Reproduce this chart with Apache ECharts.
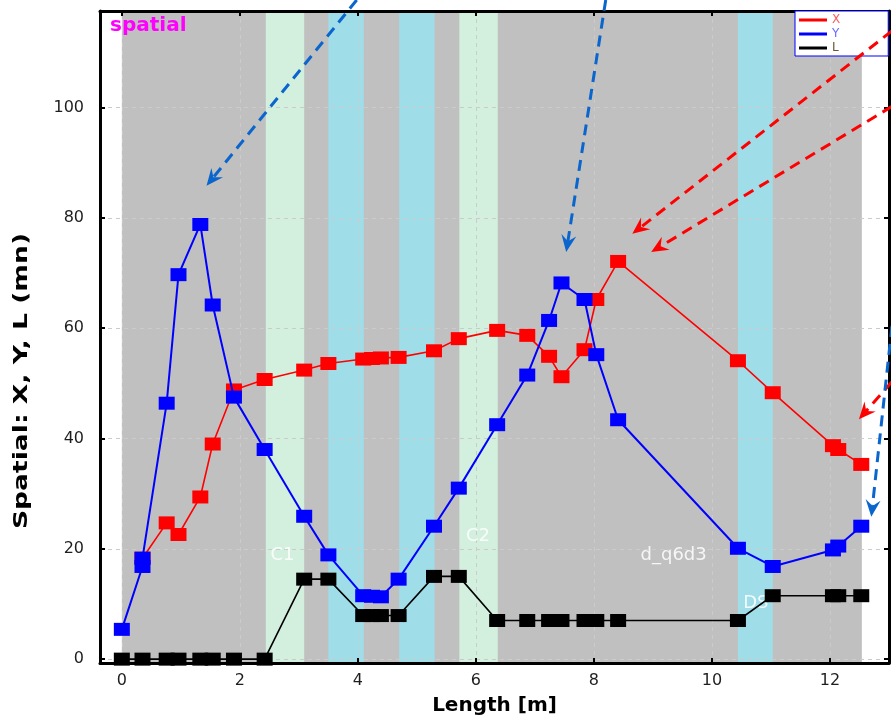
<!DOCTYPE html>
<html><head><meta charset="utf-8">
<script src="https://cdn.jsdelivr.net/npm/echarts@6/dist/echarts.min.js"></script>
<style>html,body{margin:0;padding:0;background:#fff}#c{width:891px;height:721px}</style>
</head><body><div id="c"></div>
<script>
// ---- data ----
const lengthX = [0.35, 0.76, 0.96, 1.33, 1.54, 1.90, 2.42, 3.09, 3.50, 4.09, 4.24, 4.39, 4.69, 5.29, 5.71, 6.36, 6.87, 7.24, 7.45, 7.84, 8.04, 8.41, 10.44, 11.03, 12.05, 12.14, 12.53];
const valuesX = [18.3, 24.7, 22.6, 29.4, 39.0, 48.8, 50.7, 52.4, 53.6, 54.4, 54.5, 54.6, 54.7, 55.9, 58.1, 59.6, 58.7, 54.9, 51.2, 56.1, 65.2, 72.1, 54.1, 48.3, 38.7, 38.0, 35.3];

const lengthY = [0, 0.35, 0.35, 0.76, 0.96, 1.33, 1.54, 1.90, 2.42, 3.09, 3.50, 4.09, 4.24, 4.39, 4.69, 5.29, 5.71, 6.36, 6.87, 7.24, 7.45, 7.84, 8.04, 8.41, 10.44, 11.03, 12.05, 12.14, 12.53];
const valuesY = [5.4, 16.8, 18.3, 46.4, 69.7, 78.8, 64.2, 47.5, 38.0, 25.9, 18.9, 11.5, 11.4, 11.3, 14.5, 24.1, 31.0, 42.5, 51.5, 61.4, 68.2, 65.2, 55.2, 43.4, 20.1, 16.8, 19.8, 20.5, 24.1];

const lengthL = [0, 0.35, 0.76, 0.96, 1.33, 1.54, 1.90, 2.42, 3.09, 3.50, 4.09, 4.24, 4.39, 4.69, 5.29, 5.71, 6.36, 6.87, 7.24, 7.45, 7.84, 8.04, 8.41, 10.44, 11.03, 12.05, 12.14, 12.53];
const valuesL = [0, 0, 0, 0, 0, 0, 0, 0, 14.5, 14.5, 7.9, 7.9, 7.9, 7.9, 15.0, 15.0, 7.0, 7.0, 7.0, 7.0, 7.0, 7.0, 7.0, 7.0, 11.5, 11.5, 11.5, 11.5];

const bandStart = [0, 2.44, 3.50, 4.70, 5.72, 10.44];
const bandEnd   = [12.54, 3.09, 4.10, 5.30, 6.37, 11.03];
const bandKind  = ['gray', 'green', 'cyan', 'cyan', 'green', 'cyan'];

const regionNames = ['C1', 'C2', 'd_q6d3', 'DS'];
const regionX = [2.52, 5.83, 8.79, 10.53];
const regionY = [18.9, 22.2, 18.9, 10.1];

const arrowFromX = [3.98, 8.20, 13.05, 13.05, 13.05, 13.05];
const arrowFromY = [119.5, 119.5, 113.9, 100.2, 50.3, 60.4];
const arrowToX   = [1.435, 7.53, 8.65, 8.97, 12.49, 12.70];
const arrowToY   = [85.8, 73.8, 77.1, 73.8, 43.5, 25.8];
const arrowKind  = ['blue', 'blue', 'red', 'red', 'red', 'blue'];

const seriesNames = ['X', 'Y', 'L'];

// ---- styles ----
const bandColors = { gray: '#c0c0c0', green: '#d3f0df', cyan: '#9fdde8' };
const arrowColors = { blue: '#0a66cc', red: '#ff0000' };
const lineColors = ['#ff0000', '#0000ff', '#000000'];
const legendTextColors = ['#ff5a5a', '#6a6aff', '#6b5535'];
const FONT = '"DejaVu Sans", Verdana, sans-serif';

const chart = echarts.init(document.getElementById('c'));

function bandItem(params, api) {
  const cs = params.coordSys;
  const x0 = api.coord([api.value(0), 0])[0];
  const x1 = api.coord([api.value(1), 0])[0];
  return { type: 'rect', shape: { x: x0, y: cs.y, width: x1 - x0, height: cs.height },
           style: { fill: bandColors[bandKind[params.dataIndex]] } };
}
function labelItem(params, api) {
  const p = api.coord([api.value(0), api.value(1)]);
  return { type: 'text', x: p[0], y: p[1],
           style: { text: regionNames[params.dataIndex], fill: 'rgba(255,255,255,0.85)',
                    font: '18px ' + FONT, align: 'left', verticalAlign: 'middle' } };
}
function arrowItem(params, api) {
  const p0 = api.coord([api.value(0), api.value(1)]);
  const p1 = api.coord([api.value(2), api.value(3)]);
  const color = arrowColors[arrowKind[params.dataIndex]];
  const dx = p1[0] - p0[0], dy = p1[1] - p0[1];
  const len = Math.hypot(dx, dy);
  const ux = dx / len, uy = dy / len, nx = -uy, ny = ux;
  const L = 17, W = 7.5, N = 6;
  const base = [p1[0] - ux * (L - N), p1[1] - uy * (L - N)];
  return { type: 'group', children: [
    { type: 'line', shape: { x1: p0[0], y1: p0[1], x2: base[0], y2: base[1] },
      style: { stroke: color, lineWidth: 3, lineDash: [11, 7] } },
    { type: 'polygon', shape: { points: [p1,
        [p1[0] - ux * L + nx * W, p1[1] - uy * L + ny * W], base,
        [p1[0] - ux * L - nx * W, p1[1] - uy * L - ny * W]] },
      style: { fill: color } }
  ] };
}

const isMult = (v, s) => Math.abs(v - Math.round(v / s) * s) < 1e-6;
const axisLineStyle = { show: true, onZero: false, lineStyle: { color: '#000', width: 3 } };
const tickStyle = { show: true, inside: true, length: 5, lineStyle: { color: '#000', width: 2 } };
const gridLine = { show: true, lineStyle: { type: [4, 4], color: '#cbcbcb', width: 1 } };

const lengths = [lengthX, lengthY, lengthL];
const vals = [valuesX, valuesY, valuesL];

const option = {
  animation: false,
  backgroundColor: '#fff',
  grid: { left: 100, right: 2, top: 11, bottom: 54 },
  legend: {
    orient: 'vertical', left: 795, top: 11,
    itemWidth: 28, itemHeight: 3, itemGap: 2, icon: 'rect',
    backgroundColor: '#fff', borderColor: '#0000ff', borderWidth: 1, borderRadius: 0,
    padding: [3, 48, 2, 4],
    textStyle: { fontSize: 12, fontFamily: FONT },
    data: seriesNames.map((n, i) => ({ name: n, textStyle: { color: legendTextColors[i] } }))
  },
  xAxis: [
    { type: 'value', min: -0.37, max: 13.0, splitNumber: 6, position: 'bottom',
      axisLine: axisLineStyle, axisTick: tickStyle, splitLine: gridLine,
      axisLabel: { fontFamily: FONT, fontSize: 16, color: '#1e1e1e', margin: 10,
                   showMinLabel: false, showMaxLabel: false,
                   formatter: v => isMult(v, 2) ? String(v) : '' },
      name: 'Length [m]', nameLocation: 'middle', nameGap: 33,
      nameTextStyle: { fontFamily: FONT, fontWeight: 'bold', fontSize: 20, color: '#000' } },
    { type: 'value', min: -0.37, max: 13.0, splitNumber: 6, position: 'top',
      axisLine: axisLineStyle, axisTick: tickStyle, splitLine: { show: false },
      axisLabel: { show: false } }
  ],
  yAxis: [
    { type: 'value', min: -0.7, max: 117.5, splitNumber: 6, position: 'left',
      axisLine: axisLineStyle, axisTick: tickStyle, splitLine: gridLine,
      axisLabel: { fontFamily: FONT, fontSize: 16, color: '#1e1e1e', margin: 16,
                   showMinLabel: false, showMaxLabel: false,
                   formatter: v => isMult(v, 20) ? String(v) : '' } },
    { type: 'value', min: -0.7, max: 117.5, splitNumber: 6, position: 'right',
      axisLine: axisLineStyle, axisTick: tickStyle, splitLine: { show: false },
      axisLabel: { show: false } }
  ],
  graphic: [
    { type: 'text', x: 22, y: 381, rotation: Math.PI / 2, scaleX: 1.33, z: 10,
      style: { text: 'Spatial: X, Y, L (mn)', font: 'bold 20px ' + FONT, fill: '#000',
               align: 'center', verticalAlign: 'middle' } },
    { type: 'text', x: 110, y: 26, z: 10,
      style: { text: 'spatial', font: 'bold 20px ' + FONT, fill: '#ff00ff',
               align: 'left', verticalAlign: 'middle' } },
    { type: 'group', x: 872, y: 19, z: 30, children: [
      { type: 'circle', shape: { cx: 0, cy: 0, r: 5 }, style: { fill: 'rgba(120,220,200,0.35)', stroke: '#9aa6d8', lineWidth: 2 } },
      { type: 'line', shape: { x1: -3.5, y1: 3.5, x2: -8, y2: 8 }, style: { stroke: '#9aa6d8', lineWidth: 3 } }
    ] }
  ],
  series: [
    { type: 'custom', name: 'bands', z: -1, silent: true, renderItem: bandItem,
      encode: { x: [0, 1], y: 2 },
      data: bandStart.map((s, i) => [s, bandEnd[i], 0]) },
    { type: 'custom', name: 'regions', z: 1, silent: true, renderItem: labelItem,
      encode: { x: 0, y: 1 },
      data: regionX.map((x, i) => [x, regionY[i]]) },
    ...seriesNames.map((n, k) => ({
      type: 'line', name: n, z: 3 + k,
      data: lengths[k].map((x, i) => [x, vals[k][i]]),
      symbol: 'rect', symbolSize: [16, 13], showAllSymbol: true,
      itemStyle: { color: lineColors[k] },
      lineStyle: { color: lineColors[k], width: k === 1 ? 2 : 1.6 },
      emphasis: { disabled: true }
    })),
    { type: 'custom', name: 'arrows', z: 20, silent: true, clip: false, renderItem: arrowItem,
      encode: { x: [0, 2], y: [1, 3] },
      data: arrowFromX.map((x, i) => [x, arrowFromY[i], arrowToX[i], arrowToY[i]]) }
  ]
};
chart.setOption(option);
</script>
</body></html>
